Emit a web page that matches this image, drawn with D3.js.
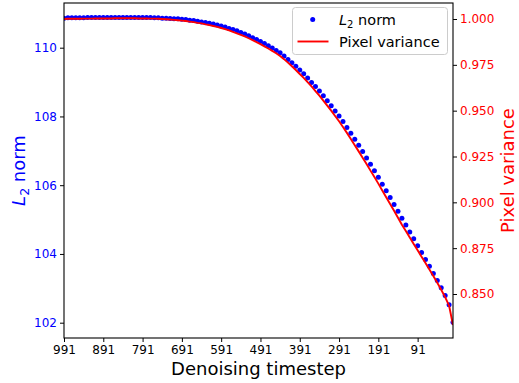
<!DOCTYPE html>
<html>
<head>
<meta charset="utf-8">
<script src="https://cdn.jsdelivr.net/npm/d3@7"></script>
<style>
  html, body { margin: 0; padding: 0; background: #fff; }
  svg { display: block; font-family: "DejaVu Sans", sans-serif; }
</style>
</head>
<body>
<div id="chart"></div>
<script>
// ---------------- data ----------------
const timesteps = [991,981,971,961,951,941,931,921,911,901,891,881,871,861,851,841,831,821,811,801,
  791,781,771,761,751,741,731,721,711,701,691,681,671,661,651,641,631,621,611,601,
  591,581,571,561,551,541,531,521,511,501,491,481,471,461,451,441,431,421,411,401,
  391,381,371,361,351,341,331,321,311,301,291,281,271,261,251,241,231,221,211,201,
  191,181,171,161,151,141,131,121,111,101,91,81,71,61,51,41,31,21,11,1];

const l2Norm = [110.86,110.87,110.87,110.87,110.87,110.87,110.88,110.88,110.88,110.88,
  110.88,110.88,110.88,110.88,110.88,110.88,110.88,110.88,110.88,110.88,
  110.88,110.88,110.88,110.87,110.87,110.86,110.86,110.85,110.84,110.84,
  110.83,110.82,110.80,110.79,110.77,110.75,110.73,110.71,110.69,110.66,
  110.63,110.60,110.56,110.53,110.49,110.44,110.40,110.35,110.29,110.24,
  110.18,110.12,110.06,109.99,109.92,109.85,109.76,109.66,109.56,109.46,
  109.35,109.24,109.12,108.99,108.87,108.74,108.60,108.46,108.31,108.16,
  108.01,107.85,107.68,107.51,107.34,107.16,106.98,106.79,106.61,106.42,
  106.23,106.03,105.84,105.64,105.44,105.24,105.04,104.84,104.64,104.44,
  104.24,104.04,103.84,103.64,103.43,103.23,103.02,102.79,102.52,102.01];

const pixelVariance = [1.0000,1.0001,1.0001,1.0001,1.0001,1.0002,1.0002,1.0002,1.0003,1.0003,
  1.0003,1.0003,1.0003,1.0004,1.0004,1.0004,1.0004,1.0004,1.0004,1.0003,
  1.0003,1.0003,1.0002,1.0002,1.0001,1.0000,0.9999,0.9997,0.9995,0.9993,
  0.9991,0.9989,0.9986,0.9983,0.9979,0.9976,0.9971,0.9967,0.9962,0.9957,
  0.9951,0.9945,0.9938,0.9930,0.9922,0.9914,0.9905,0.9895,0.9885,0.9874,
  0.9863,0.9851,0.9839,0.9826,0.9813,0.9798,0.9781,0.9762,0.9742,0.9722,
  0.9700,0.9679,0.9656,0.9632,0.9607,0.9582,0.9555,0.9528,0.9500,0.9471,
  0.9442,0.9411,0.9379,0.9346,0.9312,0.9278,0.9243,0.9209,0.9173,0.9138,
  0.9102,0.9065,0.9028,0.8991,0.8954,0.8916,0.8878,0.8843,0.8808,0.8773,
  0.8738,0.8703,0.8669,0.8634,0.8598,0.8561,0.8523,0.8483,0.8437,0.8331];

const xTicks = [991,891,791,691,591,491,391,291,191,91];
const leftTicks = [102,104,106,108,110];
const rightTicks = [0.850,0.875,0.900,0.925,0.950,0.975,1.000];

// ---------------- layout ----------------
const W = 519, H = 383;
const L = 64, R = 453, T = 3, B = 338;

const svg = d3.select("#chart").append("svg").attr("width", W).attr("height", H);

const x = d3.scaleLinear().domain([991, 1]).range([L, R]);
const yL = d3.scaleLinear().domain([101.555, 111.300]).range([B, T]);
const yR = d3.scaleLinear().domain([0.8260, 1.00873]).range([B, T]);

svg.append("clipPath").attr("id", "plotclip")
  .append("rect").attr("x", L).attr("y", T).attr("width", R - L).attr("height", B - T);

const plot = svg.append("g").attr("clip-path", "url(#plotclip)");

// blue dots
plot.selectAll("circle.l2").data(timesteps).join("circle")
  .attr("class", "l2")
  .attr("cx", (d) => x(d))
  .attr("cy", (d, i) => yL(l2Norm[i]))
  .attr("r", 2.5)
  .attr("fill", "#0000ff");

// red line
const line = d3.line().x((d) => x(d)).y((d, i) => yR(pixelVariance[i]));
plot.append("path").datum(timesteps)
  .attr("d", line)
  .attr("fill", "none")
  .attr("stroke", "#ff0000")
  .attr("stroke-width", 1.9)
  .attr("stroke-linejoin", "round");

// axes
const fs = 12;
const gx = svg.append("g").attr("transform", `translate(0,${B})`)
  .call(d3.axisBottom(x).tickValues(xTicks).tickFormat(d3.format("d")).tickSize(4).tickPadding(3));
const gl = svg.append("g").attr("transform", `translate(${L},0)`)
  .call(d3.axisLeft(yL).tickValues(leftTicks).tickFormat(d3.format("d")).tickSize(4).tickPadding(3));
const gr = svg.append("g").attr("transform", `translate(${R},0)`)
  .call(d3.axisRight(yR).tickValues(rightTicks).tickFormat(d3.format(".3f")).tickSize(4).tickPadding(3));

[gx, gl, gr].forEach(g => {
  g.select(".domain").remove();
  g.selectAll(".tick line").attr("stroke", "#000").attr("stroke-width", 1);
  g.selectAll(".tick text").attr("font-size", fs).attr("font-family", "DejaVu Sans");
});
gx.selectAll(".tick text").attr("fill", "#000");
gl.selectAll(".tick text").attr("fill", "#0000ff");
gr.selectAll(".tick text").attr("fill", "#ff0000");

// frame
svg.append("rect").attr("x", L).attr("y", T).attr("width", R - L).attr("height", B - T)
  .attr("fill", "none").attr("stroke", "#000").attr("stroke-width", 1.1);

// axis labels
svg.append("text").attr("x", (L + R) / 2).attr("y", 375)
  .attr("text-anchor", "middle").attr("font-size", 18).attr("fill", "#000")
  .text("Denoising timestep");

const ylab = svg.append("text")
  .attr("transform", `translate(25,${(T + B) / 2}) rotate(-90)`)
  .attr("text-anchor", "middle").attr("font-size", 18).attr("fill", "#0000ff");
ylab.append("tspan").attr("font-style", "italic").text("L");
ylab.append("tspan").attr("font-size", 12.5).attr("dy", 3.5).text("2");
ylab.append("tspan").attr("dy", -3.5).text(" norm");

svg.append("text")
  .attr("transform", `translate(514,${(T + B) / 2}) rotate(-90)`)
  .attr("text-anchor", "middle").attr("font-size", 18).attr("fill", "#ff0000")
  .text("Pixel variance");

// legend
const lg = svg.append("g");
lg.append("rect").attr("x", 292.5).attr("y", 7.5).attr("width", 155).attr("height", 47)
  .attr("rx", 3).attr("fill", "#fff").attr("fill-opacity", 0.8)
  .attr("stroke", "#cccccc").attr("stroke-width", 1);
lg.append("circle").attr("cx", 312.7).attr("cy", 19.5).attr("r", 2.5).attr("fill", "#0000ff");
const lt1 = lg.append("text").attr("x", 339).attr("y", 25).attr("font-size", 14.5).attr("fill", "#000");
lt1.append("tspan").attr("font-style", "italic").text("L");
lt1.append("tspan").attr("font-size", 10).attr("dy", 3).text("2");
lt1.append("tspan").attr("dy", -3).text(" norm");
lg.append("line").attr("x1", 297.5).attr("x2", 328.5).attr("y1", 41.5).attr("y2", 41.5)
  .attr("stroke", "#ff0000").attr("stroke-width", 1.9);
lg.append("text").attr("x", 339).attr("y", 46.5).attr("font-size", 14.5).attr("fill", "#000")
  .text("Pixel variance");
</script>
</body>
</html>
